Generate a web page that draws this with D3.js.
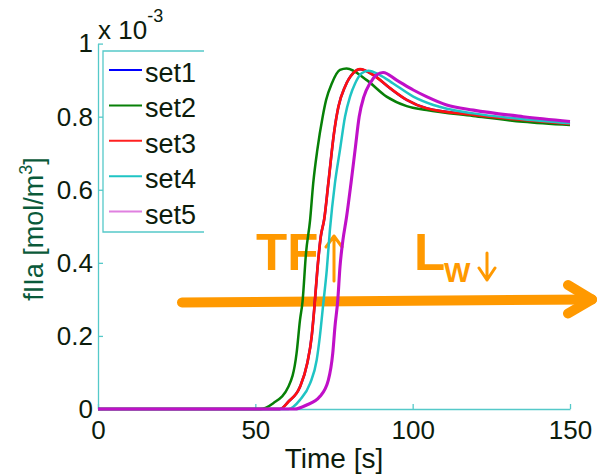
<!DOCTYPE html>
<html>
<head>
<meta charset="utf-8">
<script src="https://cdn.jsdelivr.net/npm/d3@7"></script>
<style>
  html, body { margin: 0; padding: 0; background: #fff; }
  svg { display: block; font-family: "Liberation Sans", Arial, sans-serif; }
</style>
</head>
<body>
<svg id="chart" width="597" height="474"></svg>
<script>
// Time points [s] and fIIa concentration (×1e-3 mol/m³) for each parameter set
const set1T = [0, 40, 57.8, 60.5, 64.2, 66.5, 67.9, 68.7, 69.7, 70.8, 71.9, 73.2, 75.0, 76.4, 78.5, 81.1, 83.3, 87.5, 92.8, 98.1, 104.4, 119.3, 135.1, 150];
const set1V = [0, 0, 0, 0.02, 0.061, 0.125, 0.198, 0.271, 0.38, 0.472, 0.52, 0.618, 0.755, 0.827, 0.882, 0.919, 0.93, 0.914, 0.878, 0.846, 0.823, 0.805, 0.791, 0.780];

const set2T = [0, 40, 51.5, 55.7, 60.5, 63.1, 64.2, 65.0, 66.1, 67.4, 68.4, 69.7, 71.4, 72.5, 74.3, 76.9, 79.0, 85.4, 91.7, 98.1, 104.4, 119.2, 135.1, 150];
const set2V = [0, 0, 0, 0.016, 0.061, 0.152, 0.244, 0.294, 0.426, 0.517, 0.618, 0.709, 0.80, 0.846, 0.891, 0.928, 0.932, 0.90, 0.855, 0.829, 0.818, 0.802, 0.786, 0.777];

const set3T = [0, 40, 57.8, 60.5, 64.2, 66.5, 67.9, 68.7, 69.7, 70.8, 71.9, 73.2, 75.0, 76.4, 78.5, 81.1, 83.3, 87.5, 92.8, 98.1, 104.4, 119.3, 135.1, 150];
const set3V = [0, 0, 0, 0.02, 0.061, 0.125, 0.198, 0.271, 0.38, 0.472, 0.52, 0.618, 0.755, 0.827, 0.882, 0.919, 0.93, 0.914, 0.878, 0.846, 0.823, 0.805, 0.791, 0.780];

const set4T = [0, 40, 60.5, 64.2, 67.4, 69.5, 70.5, 71.6, 72.7, 73.7, 75.3, 76.9, 78.5, 80.1, 81.7, 83.8, 85.9, 89.6, 93.8, 100.2, 106.6, 119.3, 135.1, 150];
const set4V = [0, 0, 0, 0.025, 0.07, 0.134, 0.198, 0.289, 0.38, 0.49, 0.618, 0.709, 0.80, 0.855, 0.891, 0.919, 0.926, 0.914, 0.891, 0.855, 0.832, 0.809, 0.793, 0.782];

const set5T = [0, 40, 62.5, 66.3, 70.5, 73.2, 74.6, 75.3, 76.2, 76.9, 77.8, 79.0, 80.4, 81.7, 83.0, 84.5, 86.4, 88.5, 90.6, 94.9, 100.2, 104.4, 110.8, 119.3, 135.1, 150];
const set5V = [0, 0, 0, 0.011, 0.034, 0.079, 0.152, 0.225, 0.298, 0.389, 0.46, 0.526, 0.618, 0.709, 0.80, 0.855, 0.891, 0.914, 0.921, 0.90, 0.873, 0.855, 0.832, 0.818, 0.80, 0.787];

const seriesNames  = ["set1", "set2", "set3", "set4", "set5"];
const seriesColors = ["#0000ff", "#078007", "#ff1010", "#1fc4c4", "#c010c8"];
const legendColors = ["#0000ff", "#078007", "#ff2020", "#1fc4c4", "#e080e0"];
const seriesWidths = [2.5, 2.5, 2.7, 2.5, 3.1];

const xTicks = [0, 50, 100, 150];
const xTickLabels = ["0", "50", "100", "150"];
const yTicks = [0, 0.2, 0.4, 0.6, 0.8, 1];
const yTickLabels = ["0", "0.2", "0.4", "0.6", "0.8", "1"];

const series = [
  [set1T, set1V], [set2T, set2V], [set3T, set3V], [set4T, set4V], [set5T, set5V]
].map(([t, v], i) => ({
  name: seriesNames[i],
  color: seriesColors[i],
  width: seriesWidths[i],
  points: t.map((ti, k) => ({ t: ti, v: v[k] }))
}));

const svg = d3.select("#chart");
const axisColor = "#55c9c9";
const textColor = "#0c1c0c";
const orange = "#ff9900";

const x = d3.scaleLinear().domain([0, 150]).range([98, 570]);
const y = d3.scaleLinear().domain([0, 1]).range([409, 43.6]);

// Axes: ticks point into the plot
const xAxis = d3.axisBottom(x)
  .tickValues(xTicks)
  .tickFormat((d, i) => xTickLabels[i])
  .tickSizeInner(-5).tickSizeOuter(0).tickPadding(12);
const yAxis = d3.axisLeft(y)
  .tickValues(yTicks)
  .tickFormat((d, i) => yTickLabels[i])
  .tickSizeInner(-5).tickSizeOuter(0).tickPadding(5);

const gx = svg.append("g").attr("transform", `translate(0,${y(0)})`).call(xAxis);
const gy = svg.append("g").attr("transform", `translate(${x(0)},0)`).call(yAxis);
[gx, gy].forEach(g => {
  g.select(".domain").attr("stroke", axisColor).attr("stroke-width", 1.3);
  g.selectAll(".tick line").attr("stroke", axisColor).attr("stroke-width", 1.3);
  g.selectAll(".tick text")
    .attr("fill", textColor)
    .style("font-size", "26px")
    .style("font-family", "'Liberation Sans', Arial, sans-serif");
});

// Exponent marker above the y axis
const expo = svg.append("text")
  .attr("x", x(0)).attr("y", 39)
  .attr("fill", textColor)
  .style("font-size", "26px");
expo.append("tspan").text("x 10");
expo.append("tspan").attr("dy", -17).style("font-size", "18px").text("-3");

// Axis titles
svg.append("text")
  .attr("x", (x(0) + x(150)) / 2).attr("y", 468)
  .attr("text-anchor", "middle")
  .attr("fill", textColor)
  .style("font-size", "28px")
  .text("Time [s]");

const yl = svg.append("text")
  .attr("transform", `translate(43,229) rotate(-90)`)
  .attr("text-anchor", "middle")
  .attr("fill", "#0a5a3a")
  .style("font-size", "27px");
yl.append("tspan").text("fIIa [mol/m");
yl.append("tspan").attr("dy", -11).style("font-size", "18px").text("3");
yl.append("tspan").attr("dy", 11).text("]");

// Annotation: orange trend arrow and labels
const ann = svg.append("g")
  .attr("stroke", orange).attr("fill", "none")
  .attr("stroke-linecap", "round").attr("stroke-linejoin", "round");
ann.append("path").attr("d", "M182,302.5 L592,299.5").attr("stroke-width", 10);
ann.append("path").attr("d", "M568,285 L592,299.5 L568,313.5").attr("stroke-width", 10);
ann.append("path").attr("d", "M334,281 L334,236 M326,247 L334,236 L342,247").attr("stroke-width", 3);
ann.append("path").attr("d", "M487,253 L487,280 M479,268 L487,280 L495,268").attr("stroke-width", 3);

svg.append("text")
  .attr("x", 256).attr("y", 270)
  .attr("fill", orange)
  .style("font-size", "51px").style("font-weight", "bold")
  .text("TF");
svg.append("text")
  .attr("x", 414).attr("y", 270)
  .attr("fill", orange)
  .style("font-size", "51px").style("font-weight", "bold")
  .text("L");
svg.append("text")
  .attr("x", 444).attr("y", 282)
  .attr("fill", orange)
  .style("font-size", "28px").style("font-weight", "bold")
  .text("W");

// Curves
const line = d3.line()
  .x(d => x(d.t))
  .y(d => y(d.v))
  .curve(d3.curveMonotoneX);

svg.append("g").selectAll("path")
  .data(series)
  .join("path")
  .attr("d", d => line(d.points))
  .attr("fill", "none")
  .attr("stroke", d => d.color)
  .attr("stroke-width", d => d.width)
  .attr("stroke-linejoin", "round");

// Legend (box clipped on its right side)
const lg = svg.append("g");
lg.append("path")
  .attr("d", "M204,51 L103,51 L103,232 L204,232")
  .attr("fill", "none").attr("stroke", axisColor).attr("stroke-width", 1.3);
const items = lg.selectAll("g.item")
  .data(series)
  .join("g")
  .attr("class", "item")
  .attr("transform", (d, i) => `translate(0,${70 + i * 35.4})`);
items.append("line")
  .attr("x1", 109).attr("x2", 142).attr("y1", 0).attr("y2", 0)
  .attr("stroke", (d, i) => legendColors[i]).attr("stroke-width", 2);
items.append("text")
  .attr("x", 145).attr("y", 12)
  .attr("fill", textColor)
  .style("font-size", "27px")
  .text(d => d.name);
</script>
</body>
</html>
